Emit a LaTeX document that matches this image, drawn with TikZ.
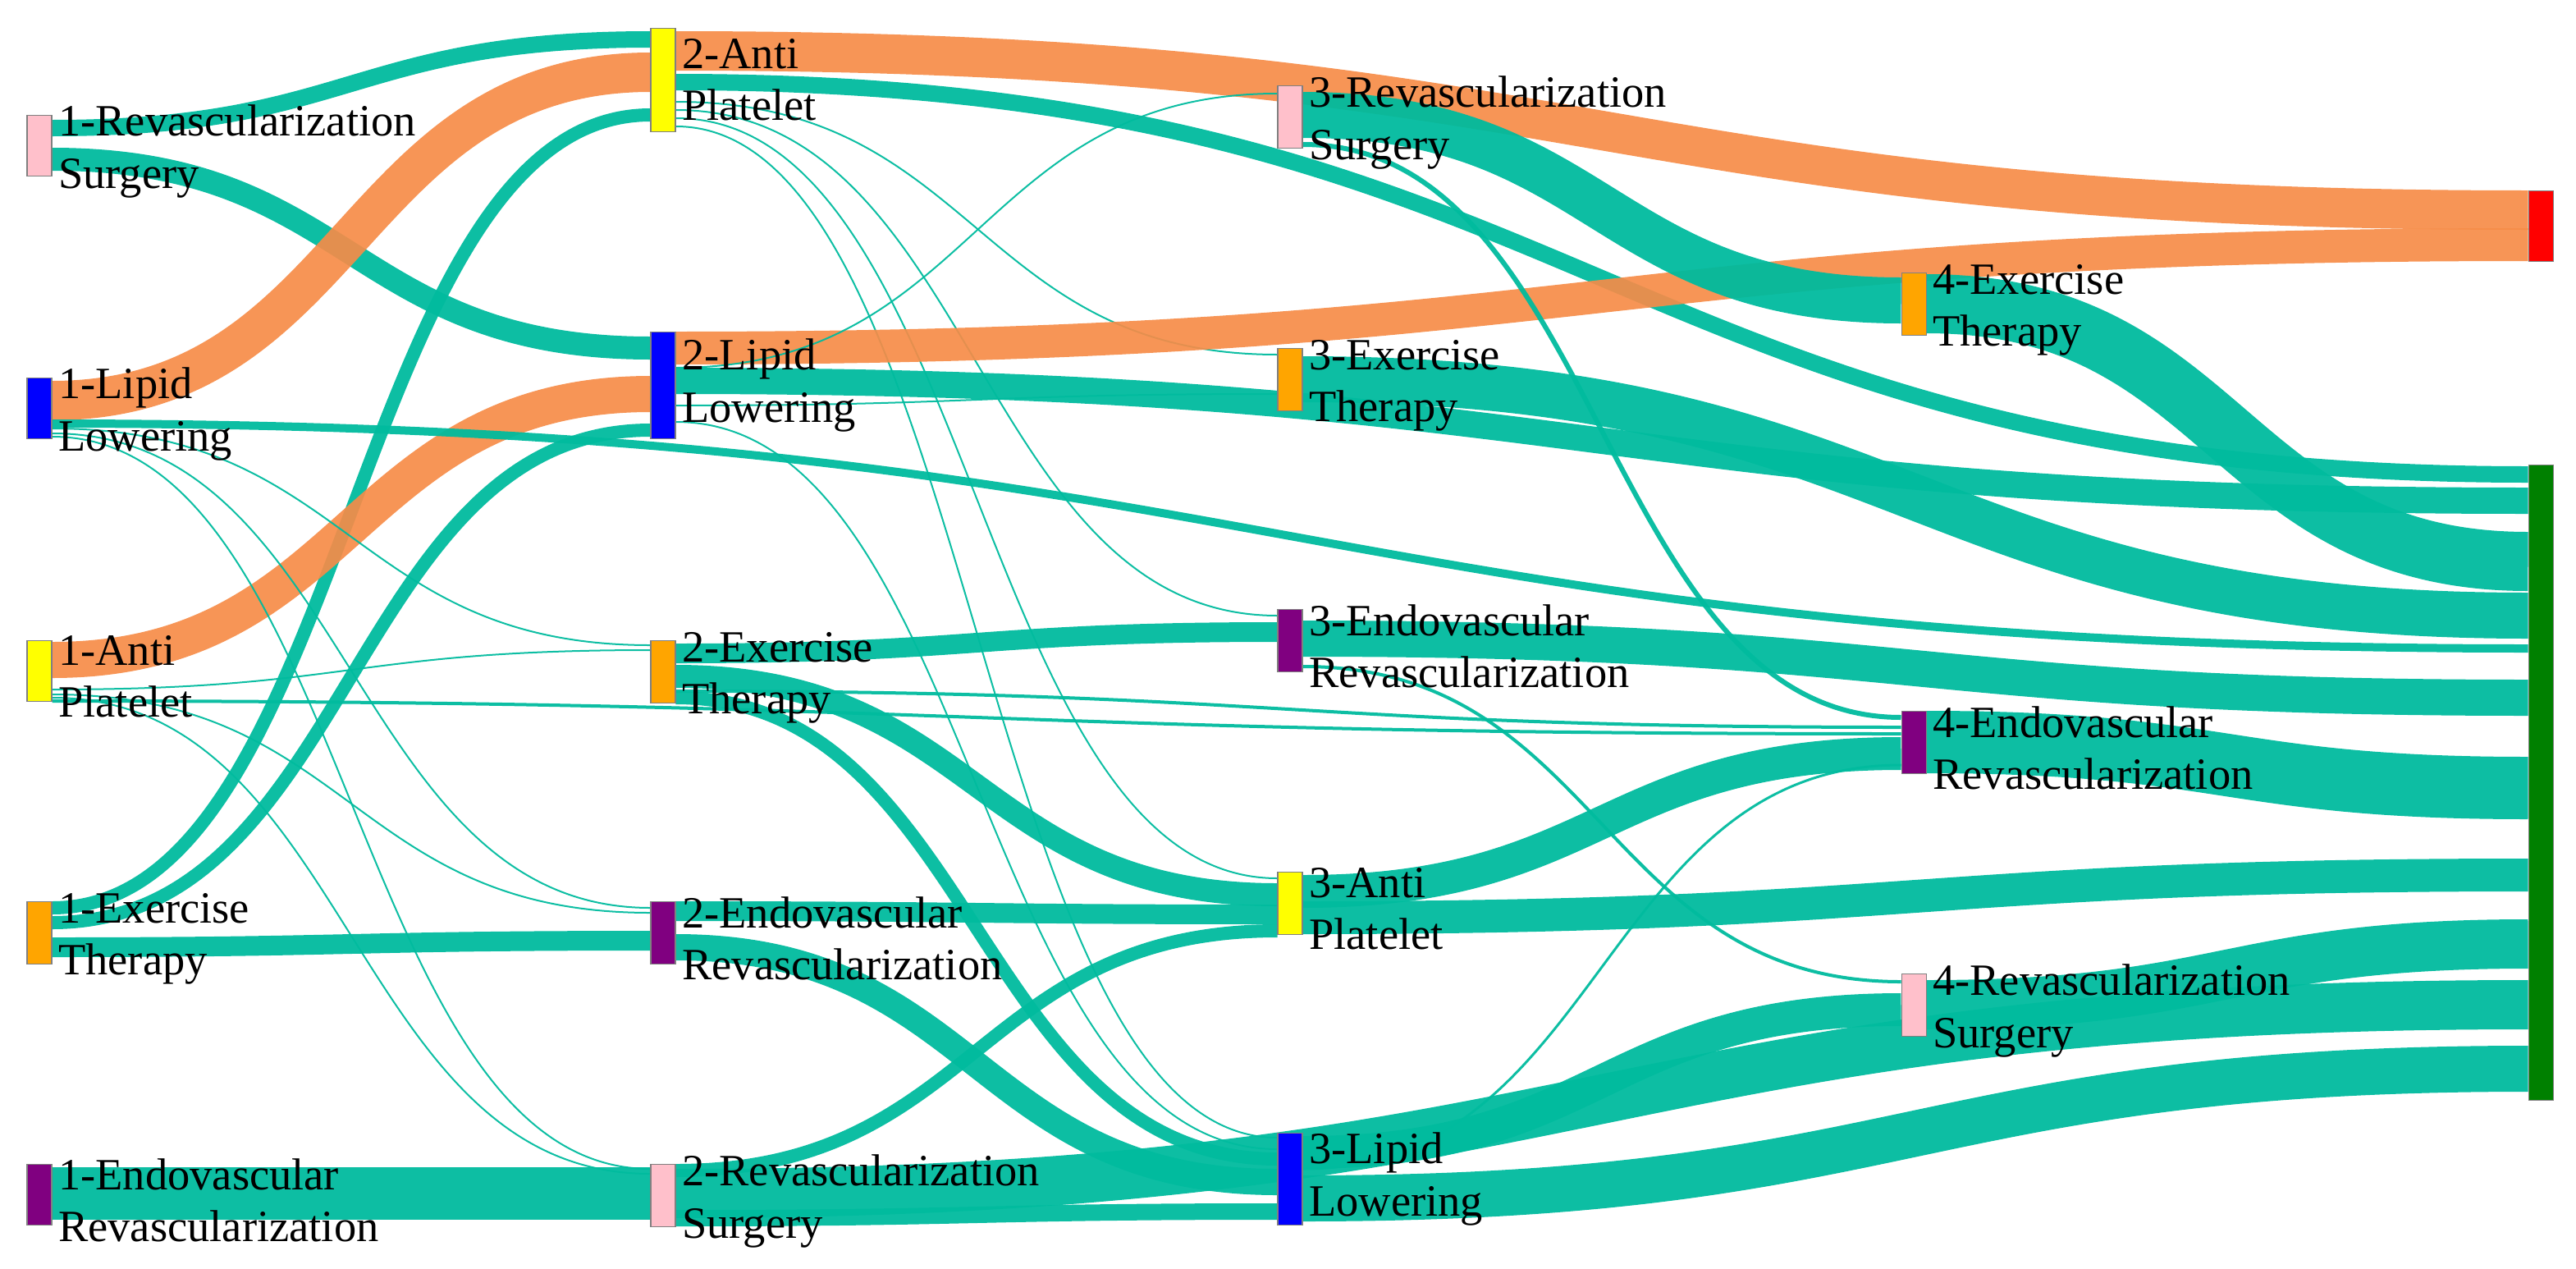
\documentclass[tikz,border=0pt]{standalone}
\usepackage{fontspec}
\setmainfont{Liberation Serif}
\usetikzlibrary{backgrounds,calc}
\definecolor{tl}{RGB}{0,187,158}
\definecolor{og}{RGB}{246,140,72}
\definecolor{pk}{RGB}{255,192,203}
\definecolor{yl}{RGB}{255,255,0}
\definecolor{bl}{RGB}{0,0,255}
\definecolor{or}{RGB}{255,165,0}
\definecolor{pu}{RGB}{128,0,128}
\definecolor{rd}{RGB}{255,0,0}
\definecolor{gn}{RGB}{0,128,0}
\tikzset{
 bar/.style={draw=black!50,line width=0.3pt,minimum width=0.3cm,inner sep=0pt,anchor=north},
 lab/.style={anchor=west,align=left,font=\fontsize{15.5}{18}\selectfont,inner sep=1pt,xshift=1pt},
 t/.style={draw=tl,opacity=0.95},
 o/.style={draw=og,opacity=0.92},
}
\newcommand\lk[6]{\draw[#6,line width=#5*0.02cm] let \p1=([yshift=-#2*0.02cm]#1.north east), \p2=([yshift=-#4*0.02cm]#3.north west) in (\p1) .. controls ({0.5*\x1+0.5*\x2},\y1) and ({0.5*\x1+0.5*\x2},\y2) .. (\p2);}
\newcommand\bn[5]{\node[bar,fill=#2,minimum height=#5*0.02cm] (#1) at (#3,#4) {};}
\begin{document}
\begin{tikzpicture}[x=0.02cm,y=-0.02cm]
\useasboundingbox (0,0) rectangle (1569.5,772.5);
% nodes
\bn{r1}{pk}{24}{70}{37}
\bn{l1}{bl}{24}{230}{37}
\bn{a1}{yl}{24}{390}{37}
\bn{e1}{or}{24}{549}{38}
\bn{v1}{pu}{24}{709}{37}
\bn{a2}{yl}{404}{17}{63}
\bn{l2}{bl}{404}{202}{65}
\bn{e2}{or}{404}{390}{38}
\bn{v2}{pu}{404}{549}{38}
\bn{r2}{pk}{404}{709}{38}
\bn{r3}{pk}{786}{52}{38}
\bn{e3}{or}{786}{212}{38}
\bn{v3}{pu}{786}{371}{38}
\bn{a3}{yl}{786}{531}{38}
\bn{l3}{bl}{786}{690}{56}
\bn{e4}{or}{1166}{166}{38}
\bn{v4}{pu}{1166}{433}{38}
\bn{r4}{pk}{1166}{593}{38}
\bn{rd}{rd}{1548}{116}{43}
\bn{gn}{gn}{1548}{283}{387}
% labels
\node[lab] at ([yshift=-2pt]r1.east) {1-Revascularization\\Surgery};
\node[lab] at ([yshift=-2pt]l1.east) {1-Lipid\\Lowering};
\node[lab] at ([yshift=-2pt]a1.east) {1-Anti\\Platelet};
\node[lab] at ([yshift=-2pt]e1.east) {1-Exercise\\Therapy};
\node[lab] at ([yshift=-2pt]v1.east) {1-Endovascular\\Revascularization};
\node[lab] at (a2.east) {2-Anti\\Platelet};
\node[lab] at (l2.east) {2-Lipid\\Lowering};
\node[lab] at ([yshift=-2pt]e2.east) {2-Exercise\\Therapy};
\node[lab] at ([yshift=-2pt]v2.east) {2-Endovascular\\Revascularization};
\node[lab] at ([yshift=-2pt]r2.east) {2-Revascularization\\Surgery};
\node[lab] at ([yshift=-2pt]r3.east) {3-Revascularization\\Surgery};
\node[lab] at ([yshift=-2pt]e3.east) {3-Exercise\\Therapy};
\node[lab] at ([yshift=-2pt]v3.east) {3-Endovascular\\Revascularization};
\node[lab] at ([yshift=-2pt]a3.east) {3-Anti\\Platelet};
\node[lab] at (l3.east) {3-Lipid\\Lowering};
\node[lab] at ([yshift=-2pt]e4.east) {4-Exercise\\Therapy};
\node[lab] at ([yshift=-2pt]v4.east) {4-Endovascular\\Revascularization};
\node[lab] at ([yshift=-2pt]r4.east) {4-Revascularization\\Surgery};
\begin{pgfonlayer}{background}
% column 1 -> 2
\lk{r1}{8}{a2}{7}{10}{t}
\lk{r1}{27}{l2}{10}{14}{t}
\lk{l1}{14}{a2}{27}{24}{o}
\lk{e1}{4}{a2}{53}{8}{t}
\lk{a1}{12}{l2}{38}{22}{o}
\lk{e1}{13}{l2}{60}{8}{t}
\lk{e1}{28}{v2}{24}{12}{t}
\lk{v1}{18}{r2}{18}{32}{t}
\lk{l1}{31}{e2}{3}{1}{t}
\lk{l1}{34}{v2}{4}{1}{t}
\lk{l1}{36}{r2}{3}{1}{t}
\lk{l1}{28}{gn}{112}{5}{t}
\lk{a1}{30}{e2}{6}{1}{t}
\lk{a1}{33}{v2}{7}{1}{t}
\lk{a1}{35}{r2}{6}{1}{t}
\lk{a1}{37}{v4}{14}{2}{t}
% column 2 -> 3
\lk{a2}{14}{rd}{12}{24}{o}
\lk{a2}{33}{gn}{6}{10}{t}
\lk{a2}{45}{e3}{4}{1}{t}
\lk{a2}{50}{v3}{4}{1}{t}
\lk{a2}{55}{a3}{4}{1}{t}
\lk{a2}{60}{l3}{3}{1}{t}
\lk{l2}{10}{rd}{33}{20}{o}
\lk{l2}{30}{gn}{22}{16}{t}
\lk{l2}{22}{r3}{5}{1}{t}
\lk{l2}{45}{e3}{28}{1}{t}
\lk{l2}{55}{l3}{10}{1}{t}
\lk{e2}{8}{v3}{14}{12}{t}
\lk{e2}{22}{a3}{14}{14}{t}
\lk{e2}{31}{v4}{10}{2}{t}
\lk{e2}{35}{l3}{16}{8}{t}
\lk{v2}{6}{a3}{26}{12}{t}
\lk{v2}{28}{l3}{30}{16}{t}
\lk{r2}{4}{a3}{36}{8}{t}
\lk{r2}{18}{gn}{329}{30}{t}
\lk{r2}{33}{l3}{48}{10}{t}
% column 3 -> 4/5
\lk{r3}{18}{e4}{17}{28}{t}
\lk{r3}{36}{v4}{4}{3}{t}
\lk{e3}{19}{gn}{92}{28}{t}
\lk{v3}{18}{gn}{142}{22}{t}
\lk{v3}{35}{r4}{5}{2}{t}
\lk{a3}{12}{v4}{26}{20}{t}
\lk{a3}{28}{gn}{250}{20}{t}
\lk{l3}{12}{r4}{22}{20}{t}
\lk{l3}{22}{v4}{33}{1.5}{t}
\lk{l3}{40}{gn}{368}{28}{t}
% column 4 -> 5
\lk{e4}{19}{gn}{59}{36}{t}
\lk{v4}{19}{gn}{197}{38}{t}
\lk{r4}{19}{gn}{292}{30}{t}
\end{pgfonlayer}
\end{tikzpicture}
\end{document}
